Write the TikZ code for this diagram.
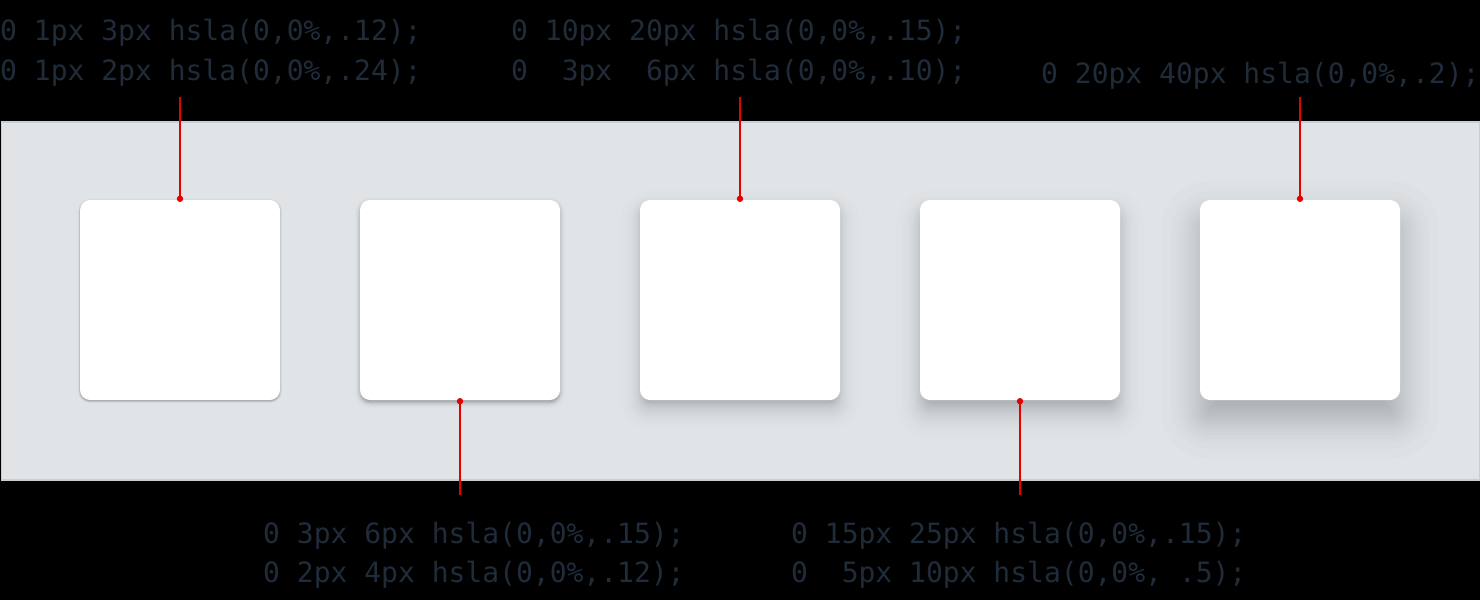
\documentclass[tikz,border=0pt]{standalone}
\usepackage{fontspec}
\newfontfamily\codefont{DejaVu Sans Mono}
\definecolor{panelfill}{RGB}{225,228,231}
\definecolor{panelline}{RGB}{202,206,210}
\definecolor{codecol}{RGB}{32,44,58}
\definecolor{pointer}{RGB}{230,0,0}
\newcommand\cardshadow[5]{% #1 cx, #2 cy, #3 dy, #4 blur, #5 alpha
  \pgfmathsetmacro\shalpha{#5/20}%
  \foreach \q in {-1.960,-1.440,-1.150,-0.935,-0.755,-0.598,-0.454,-0.319,-0.189,-0.063,
                  0.063,0.189,0.319,0.454,0.598,0.755,0.935,1.150,1.440,1.960}{%
    \pgfmathsetmacro\ee{\q*#4/2}%
    \pgfmathsetmacro\rr{max(10+\ee,0.5)}%
    \fill[black, fill opacity=\shalpha, rounded corners=\rr pt]
      ({#1-100-\ee},{#2-100-\ee+#3}) rectangle ({#1+100+\ee},{#2+100+\ee+#3});
  }}
\tikzset{
  card/.style={fill=white, rounded corners=10pt, minimum width=200pt, minimum height=200pt, inner sep=0pt, draw=none},
  code/.style={font=\codefont\fontsize{28}{40}\selectfont, text=codecol, anchor=base west, inner sep=0pt},
  lead/.style={draw=pointer, line width=2pt},
  tip/.style={fill=pointer},
}
\begin{document}
\begin{tikzpicture}[x=1pt,y=-1pt]
\fill[black] (0,0) rectangle (1480,600);
\useasboundingbox (0,0) rectangle (1480,600);
\node[fill=panelfill, draw=panelline, line width=1.5pt, minimum width=1478.5pt, minimum height=358pt, inner sep=0pt, anchor=north west] (panel) at (0.75,121) {};
% shadows
\cardshadow{180}{300}{1}{3}{0.12}
\cardshadow{180}{300}{1}{2}{0.24}
\cardshadow{460}{300}{3}{6}{0.15}
\cardshadow{460}{300}{2}{4}{0.12}
\cardshadow{740}{300}{10}{20}{0.15}
\cardshadow{740}{300}{3}{6}{0.10}
\cardshadow{1020}{300}{15}{25}{0.15}
\cardshadow{1020}{300}{5}{10}{0.05}
\cardshadow{1300}{300}{20}{40}{0.2}
% cards
\node[card] (c1) at (180,300) {};
\node[card] (c2) at (460,300) {};
\node[card] (c3) at (740,300) {};
\node[card] (c4) at (1020,300) {};
\node[card] (c5) at (1300,300) {};
% labels
\node[code] (l1a) at (0,40) {0 1px 3px hsla(0,0\%,.12);};
\node[code] (l1b) at (0,80) {0 1px 2px hsla(0,0\%,.24);};
\node[code] (l3a) at (511,40) {0 10px 20px hsla(0,0\%,.15);};
\node[code] (l3b) at (511,80) {0~~3px~~6px hsla(0,0\%,.10);};
\node[code] (l5a) at (1041,83) {0 20px 40px hsla(0,0\%,.2);};
\node[code] (l2a) at (263,543) {0 3px 6px hsla(0,0\%,.15);};
\node[code] (l2b) at (263,582) {0 2px 4px hsla(0,0\%,.12);};
\node[code] (l4a) at (791,543) {0 15px 25px hsla(0,0\%,.15);};
\node[code] (l4b) at (791,582) {0~~5px 10px hsla(0,0\%,~.5);};
% leader lines
\coordinate (e1) at (180,97);
\coordinate (e3) at (740,97);
\coordinate (e5) at (1300,97);
\coordinate (e2) at (460,495);
\coordinate (e4) at (1020,495);
\draw[lead] (e1) -- (c1.north);
\draw[lead] (e3) -- (c3.north);
\draw[lead] (e5) -- (c5.north);
\draw[lead] (c2.south) -- (e2);
\draw[lead] (c4.south) -- (e4);
\fill[tip] (c1.north) ++(0,-1) circle (3.2pt);
\fill[tip] (c3.north) ++(0,-1) circle (3.2pt);
\fill[tip] (c5.north) ++(0,-1) circle (3.2pt);
\fill[tip] (c2.south) ++(0,1) circle (3.2pt);
\fill[tip] (c4.south) ++(0,1) circle (3.2pt);
\end{tikzpicture}
\end{document}
